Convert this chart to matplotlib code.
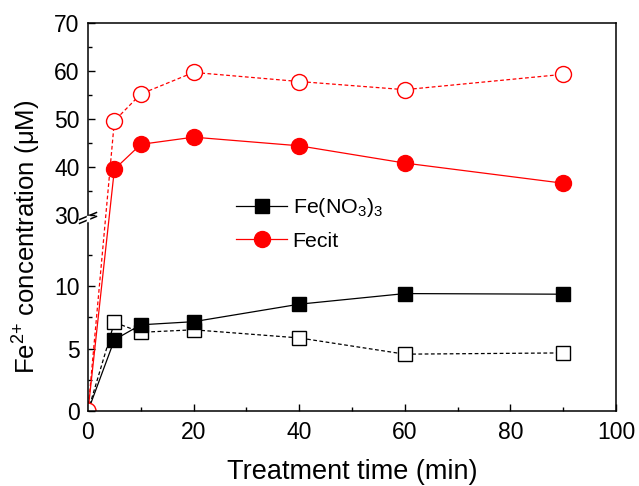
import numpy as np
import matplotlib
matplotlib.use('Agg')
from matplotlib import pyplot as plt
from matplotlib.ticker import FixedLocator, FixedFormatter
from matplotlib.lines import Line2D
from matplotlib.patches import Circle
from matplotlib.transforms import ScaledTranslation

# data
time_min = [0, 5, 10, 20, 40, 60, 90]
fecit = [0, 39.5, 44.7, 46.2, 44.4, 40.8, 36.6]
fecit_open = [0, 49.6, 55.2, 59.7, 57.8, 56.1, 59.3]
fe_no3 = [0, 5.7, 6.9, 7.15, 8.55, 9.4, 9.35]
fe_no3_open = [0, 7.1, 6.3, 6.5, 5.85, 4.55, 4.65]

y_major = [0, 5, 10, 30, 40, 50, 60, 70]
y_minor = [2.5, 7.5, 12.5, 35, 45, 55, 65]

plt.rcParams['font.family'] = ['Liberation Sans', 'DejaVu Sans']
plt.rcParams['mathtext.default'] = 'regular'

# broken y axis: 0-15.7 on bottom, 30-70 squeezed on top
b = 15.68
g = 0.02
k = 0.384


def forward(y):
    y = np.asarray(y, dtype=float)
    return np.where(y <= b, y,
                    np.where(y >= 30, b + g + (y - 30) * k,
                             b + (y - b) / (30 - b) * g))


def inverse(t):
    t = np.asarray(t, dtype=float)
    return np.where(t <= b, t,
                    np.where(t >= b + g, 30 + (t - b - g) / k,
                             b + (t - b) / g * (30 - b)))


fig = plt.figure(figsize=(6.39, 4.86), dpi=100)
ax = fig.add_axes([88/639, 75/486, 528/639, 388/486])
ax.set_yscale('function', functions=(forward, inverse))

ms_c = 11.5
ms_s = 10
series = [
    (fe_no3_open, '--', 'black', 's', ms_s, 'white'),
    (fe_no3, '-', 'black', 's', ms_s, 'black'),
    (fecit, '-', 'red', 'o', ms_c, 'red'),
    (fecit_open, '--', 'red', 'o', ms_c, 'white'),
]
for yv, ls, c, m, ms, fc in series:
    kw = dict(dashes=(3, 2)) if ls == '--' else {}
    ax.plot(time_min, yv, ls, color=c, lw=0.9, **kw)
    ax.plot(time_min[1:], yv[1:], ls='none', marker=m, ms=ms, mfc=fc, mec=c, mew=1.0)

# open circle sitting on the origin, cut by the axes box
trans = fig.dpi_scale_trans + ScaledTranslation(time_min[0], fecit_open[0], ax.transData)
ax.add_patch(Circle((0, 0), radius=ms_c / 2 / 72, transform=trans,
                    facecolor='white', edgecolor='red', lw=1.0, zorder=3))

ax.set_xlim(0, 100)
ax.set_ylim(0, 70)
ax.set_xticks([0, 20, 40, 60, 80, 100])
ax.set_xticks([10, 30, 50, 70, 90], minor=True)
ax.yaxis.set_major_locator(FixedLocator(y_major))
ax.yaxis.set_major_formatter(FixedFormatter([str(v) for v in y_major]))
ax.yaxis.set_minor_locator(FixedLocator(y_minor))

ax.tick_params(which='both', direction='in', top=False, right=False, labelsize=16.5, width=1.0)
ax.tick_params(which='major', length=5)
ax.tick_params(which='minor', length=3)
ax.tick_params(axis='x', which='major', pad=7)
ax.tick_params(axis='y', which='major', pad=6)
for s in ax.spines.values():
    s.set_linewidth(1.1)
    s.set_zorder(4)

ax.set_xlabel('Treatment time (min)', fontsize=19.5, labelpad=11)
ax.set_ylabel('Fe$^{2{+}}$ concentration ($\\mu$M)', fontsize=18.5)
ax.yaxis.set_label_coords(-0.086, 0.448)

# break marks on the left spine
yb = forward(30) / forward(70)
ax.plot([-0.016, 0.016], [yb - 0.012, yb + 0.006], transform=ax.transAxes,
        color='black', lw=1.1, clip_on=False)
ax.plot([-0.016, 0.016], [yb - 0.022, yb - 0.004], transform=ax.transAxes,
        color='black', lw=1.1, clip_on=False)
ax.plot([0, 0], [yb - 0.014, yb - 0.006], transform=ax.transAxes,
        color='white', lw=2.5, clip_on=False, zorder=5)

handles = [Line2D([], [], color='black', lw=0.9, marker='s', ms=ms_s),
           Line2D([], [], color='red', lw=0.9, marker='o', ms=ms_c)]
ax.legend(handles, ['Fe(NO$_3$)$_3$', 'Fecit'], loc='upper left',
          bbox_to_anchor=(0.272, 0.565), frameon=False, fontsize=15.4,
          handlelength=2.4, labelspacing=0.6, handletextpad=0.25,
          borderaxespad=0, borderpad=0.2)

fig.savefig('out.png', dpi=100)
